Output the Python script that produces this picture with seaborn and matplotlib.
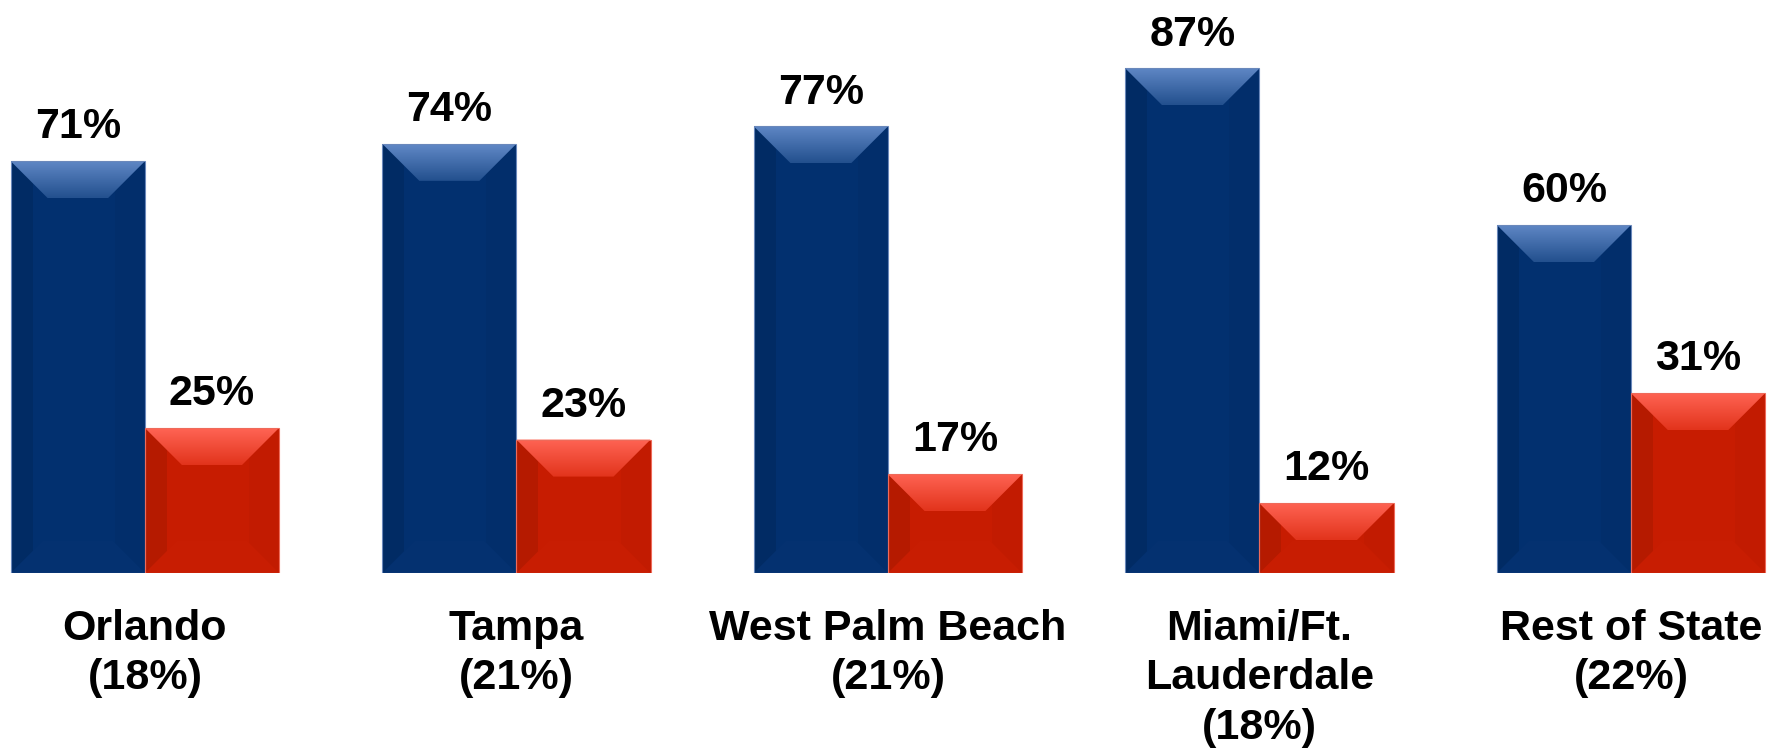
import numpy as np
import pandas as pd
import matplotlib
matplotlib.use("Agg")
import matplotlib.pyplot as plt
import seaborn as sns
from matplotlib.patches import Polygon, Rectangle
from matplotlib.colors import LinearSegmentedColormap

# ---- data ----
categories = ["Orlando\n(18%)", "Tampa\n(21%)", "West Palm Beach\n(21%)",
              "Miami/Ft.\nLauderdale\n(18%)", "Rest of State\n(22%)"]
series_names = ["Series 1", "Series 2"]
series1 = [71, 74, 77, 87, 60]
series2 = [25, 23, 17, 12, 31]
value_labels1 = ["71%", "74%", "77%", "87%", "60%"]
value_labels2 = ["25%", "23%", "17%", "12%", "31%"]

df = pd.DataFrame({
    "region": categories * 2,
    "series": [series_names[0]] * len(categories) + [series_names[1]] * len(categories),
    "value": series1 + series2,
})

BLUE = "#02306f"
RED = "#c71c01"

sns.set_theme(style="white")
plt.rcParams["font.family"] = ["Liberation Sans", "DejaVu Sans"]
plt.rcParams["font.weight"] = "bold"

fig = plt.figure(figsize=(17.77, 7.48), dpi=100)
ax = fig.add_axes([0, 0.234, 1, 0.766])

sns.barplot(data=df, x="region", y="value", hue="series", order=categories,
            hue_order=series_names, palette=[BLUE, RED], width=0.722,
            saturation=1, ax=ax, legend=False, edgecolor="none", linewidth=0)

ax.set_xlim(-0.39, 4.393)
ax.set_ylim(0, 98.8)
for s in ax.spines.values():
    s.set_visible(False)
ax.set_yticks([])
ax.set_ylabel("")
ax.set_xlabel("")
ax.tick_params(axis="x", length=0, pad=26)
ax.set_xticks(range(len(categories)))
ax.set_xticklabels(categories, fontsize=31, fontweight="bold", linespacing=1.3,
                   va="top", color="black")

# value labels
for cont, labs in zip(ax.containers, [value_labels1, value_labels2]):
    ax.bar_label(cont, labels=labs, padding=10, fontsize=31, fontweight="bold",
                 color="black")

# ---- bevel decoration derived from bar geometry ----
fig.canvas.draw()
t = ax.transData
px_x = t.transform((1, 0))[0] - t.transform((0, 0))[0]
px_y = t.transform((0, 1))[1] - t.transform((0, 0))[1]

styles = {
    0: dict(top=("#6088c6", "#23508e"), left="#012b64", right="#022e6b",
            bottom="#043170", edge="#6a88bb"),
    1: dict(top=("#ff6454", "#e2341c"), left="#b51a00", right="#c21b01",
            bottom="#c81d02", edge="#ee6a5a"),
}
for ci, cont in enumerate(ax.containers):
    st = styles[ci]
    cmap = LinearSegmentedColormap.from_list("g", [st["top"][1], st["top"][0]])
    for bar in cont.patches:
        x0, w, h = bar.get_x(), bar.get_width(), bar.get_height()
        bt = 37  # px bevel
        dx, dy = bt / px_x, bt / px_y
        dxl = 22 / px_x
        dxr = 30 / px_x
        dyb = 32 / px_y
        dxb = 32 / px_x
        # side strips
        ax.add_patch(Rectangle((x0, 0), dxl, h, facecolor=st["left"], edgecolor="none", zorder=3))
        ax.add_patch(Rectangle((x0 + w - dxr, 0), dxr, h, facecolor=st["right"], edgecolor="none", zorder=3))
        # bottom bevel
        ax.add_patch(Polygon([(x0, 0), (x0 + w, 0), (x0 + w - dxb, dyb), (x0 + dxb, dyb)],
                             closed=True, facecolor=st["bottom"], edgecolor="none", zorder=3))
        # top bevel gradient
        poly = Polygon([(x0, h), (x0 + w, h), (x0 + w - dx, h - dy), (x0 + dx, h - dy)],
                       closed=True, facecolor="none", edgecolor="none", zorder=4)
        ax.add_patch(poly)
        grad = np.linspace(0, 1, 64).reshape(-1, 1)
        im = ax.imshow(grad, cmap=cmap, origin="lower", aspect="auto",
                       extent=(x0, x0 + w, h - dy, h), zorder=4, interpolation="bilinear")
        im.set_clip_path(poly)
        # outline
        ax.add_patch(Rectangle((x0, 0), w, h, facecolor="none", edgecolor=st["edge"],
                               linewidth=0.8, zorder=5))

ax.set_xlim(-0.39, 4.393)
ax.set_ylim(0, 98.8)

fig.savefig("out.png", dpi=100, facecolor="white")
